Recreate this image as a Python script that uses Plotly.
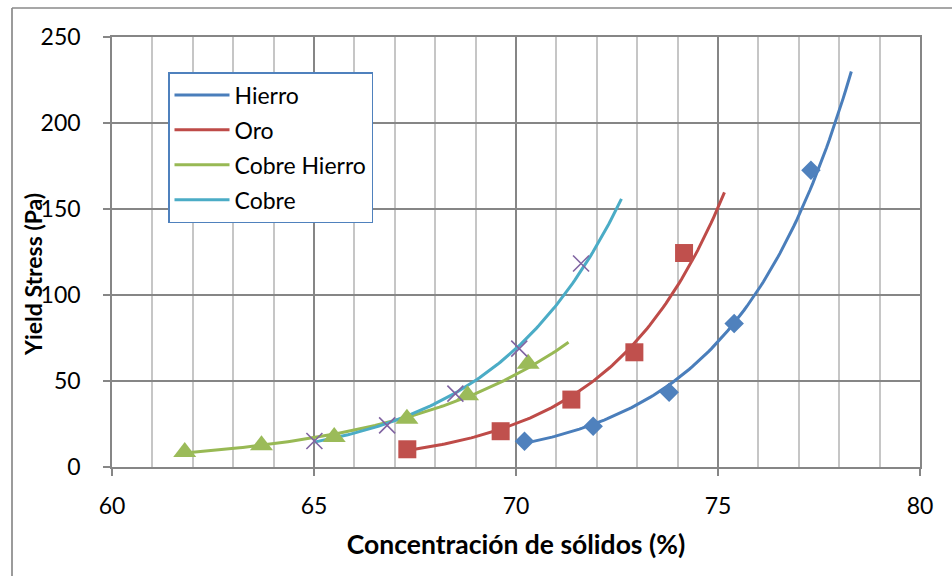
import numpy as np
import plotly.graph_objects as go

# ---- data ----
hierro_x = [70.21, 71.91, 73.79, 75.40, 77.30]
hierro_y = [14.9, 23.7, 43.4, 83.5, 172.5]

oro_x = [67.31, 69.62, 71.37, 72.93, 74.16]
oro_y = [10.3, 20.8, 39.2, 66.7, 124.4]

cobre_hierro_x = [61.80, 63.70, 65.50, 67.30, 68.80, 70.30]
cobre_hierro_y = [8.7, 12.6, 17.4, 28.1, 41.7, 60.1]

cobre_x = [65.01, 66.81, 68.50, 70.08, 71.61]
cobre_y = [15.1, 24.2, 42.7, 68.8, 118.3]

series_names = ["Hierro", "Oro", "Cobre Hierro", "Cobre"]
x_ticks = [60, 65, 70, 75, 80]
y_ticks = [0, 50, 100, 150, 200, 250]
forecast_forward = 1.0

# ---- styles ----
FONT = "Lato"
marker_colors = ["#4F81BD", "#C0504D", "#9BBB59", "#8064A2"]
line_colors = ["#4A7EBB", "#BE4B48", "#98B954", "#4BACC6"]
symbols = ["diamond", "square", "triangle-up", "x-thin"]
sizes = [15, 18, 20, 16]

# layout in pixels
W, H = 952, 576
ML, MR, MT, MB = 112, 32, 37, 109
PW, PH = W - ML - MR, H - MT - MB


def px(xp):
    return (xp - ML) / PW


def py(yp):
    return 1 - (yp - MT) / PH


def exp_trend(xs, ys, forward):
    b, ln_a = np.polyfit(np.array(xs), np.log(np.array(ys)), 1)
    xx = np.linspace(min(xs), max(xs) + forward, 120)
    return xx, np.exp(ln_a + b * xx)


fig = go.Figure()
all_series = [(hierro_x, hierro_y), (oro_x, oro_y),
              (cobre_hierro_x, cobre_hierro_y), (cobre_x, cobre_y)]

# trendlines (shown in legend)
for i, (xs, ys) in enumerate(all_series):
    tx, ty = exp_trend(xs, ys, forecast_forward)
    fig.add_trace(go.Scatter(x=tx, y=ty, mode="lines", name=series_names[i],
                             legendgroup="g%d" % i,
                             line=dict(color=line_colors[i], width=3),
                             showlegend=True, hoverinfo="skip"))

# markers
for i, (xs, ys) in enumerate(all_series):
    if symbols[i] == "x-thin":
        mk = dict(symbol="x-thin", size=sizes[i],
                  line=dict(color=marker_colors[i], width=1.6),
                  color=marker_colors[i])
    else:
        mk = dict(symbol=symbols[i], size=sizes[i], color=marker_colors[i],
                  line=dict(width=0))
    fig.add_trace(go.Scatter(x=xs, y=ys, mode="markers", marker=mk,
                             legendgroup="g%d" % i,
                             showlegend=False, name=series_names[i] + " datos"))

axis_gray = "#868686"
fig.update_xaxes(range=[60, 80], tickvals=x_ticks, ticktext=[str(v) for v in x_ticks],
                 showgrid=True, gridcolor=axis_gray, gridwidth=1.5,
                 minor=dict(dtick=1, showgrid=True, gridcolor="#C6C6C6", gridwidth=1.5),
                 showline=True, linecolor=axis_gray, linewidth=1.5, mirror=True,
                 ticks="outside", ticklen=7, tickcolor=axis_gray, tickwidth=1.5,
                 ticklabelstandoff=11,
                 tickfont=dict(family=FONT, size=23, color="#000000"),
                 zeroline=False,
                 title=dict(text="Concentración de sólidos (%)",
                            font=dict(family=FONT, size=26.5, color="#000000", weight="bold"),
                            standoff=17))
fig.update_yaxes(range=[0, 250], tickvals=y_ticks, ticktext=[str(v) for v in y_ticks],
                 showgrid=True, gridcolor=axis_gray, gridwidth=1.5,
                 showline=True, linecolor=axis_gray, linewidth=1.5, mirror=True,
                 ticks="outside", ticklen=7, tickcolor=axis_gray, tickwidth=1.5,
                 ticklabelstandoff=18,
                 tickfont=dict(family=FONT, size=23, color="#000000"),
                 zeroline=False)

fig.add_annotation(text="<b>Yield Stress (Pa)</b>", xref="paper", yref="paper",
                   x=px(33), y=py(275), textangle=-90, showarrow=False,
                   font=dict(family=FONT, size=23, color="#000000"),
                   xanchor="center", yanchor="middle")

# outer chart frame (left and top edges visible)
frame = "#8A8A8A"
fig.add_shape(type="line", xref="paper", yref="paper", x0=px(12), x1=px(12),
              y0=py(8), y1=py(H + 5), line=dict(color=frame, width=1.7))
fig.add_shape(type="line", xref="paper", yref="paper", x0=px(12), x1=px(W + 5),
              y0=py(8), y1=py(8), line=dict(color=frame, width=1.7))

fig.update_layout(
    width=W, height=H,
    margin=dict(l=ML, r=MR, t=MT, b=MB, autoexpand=False),
    paper_bgcolor="white", plot_bgcolor="white",
    font=dict(family=FONT, color="#000000"),
    legend=dict(x=px(168), y=py(72), xanchor="left", yanchor="top",
                bgcolor="white", bordercolor="#4F81BD", borderwidth=1.5,
                font=dict(family=FONT, size=23, color="#000000"),
                itemwidth=55, traceorder="grouped", tracegroupgap=2),
    showlegend=True,
)

fig.write_html("out.html")
